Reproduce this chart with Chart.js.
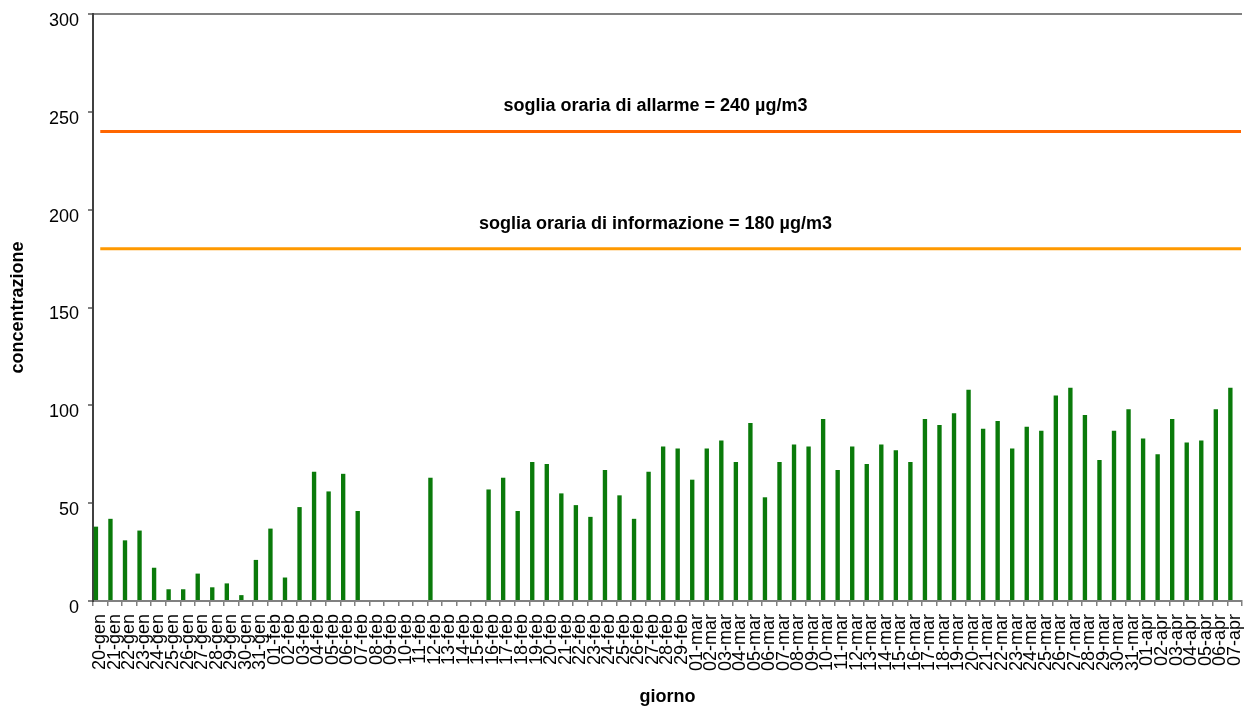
<!DOCTYPE html>
<html>
<head>
<meta charset="utf-8">
<script src="https://cdn.jsdelivr.net/npm/chart.js@4/dist/chart.umd.min.js"></script>
<style>
  html, body { margin: 0; padding: 0; background: #fff; }
  #wrap { width: 1245px; height: 706px; position: relative; }
</style>
</head>
<body>
<div id="wrap"><canvas id="chart"></canvas></div>
<script>
const giorni = [
  '20-gen','21-gen','22-gen','23-gen','24-gen','25-gen','26-gen','27-gen','28-gen','29-gen','30-gen','31-gen',
  '01-feb','02-feb','03-feb','04-feb','05-feb','06-feb','07-feb','08-feb','09-feb','10-feb','11-feb','12-feb',
  '13-feb','14-feb','15-feb','16-feb','17-feb','18-feb','19-feb','20-feb','21-feb','22-feb','23-feb','24-feb',
  '25-feb','26-feb','27-feb','28-feb','29-feb',
  '01-mar','02-mar','03-mar','04-mar','05-mar','06-mar','07-mar','08-mar','09-mar','10-mar','11-mar','12-mar',
  '13-mar','14-mar','15-mar','16-mar','17-mar','18-mar','19-mar','20-mar','21-mar','22-mar','23-mar','24-mar',
  '25-mar','26-mar','27-mar','28-mar','29-mar','30-mar','31-mar',
  '01-apr','02-apr','03-apr','04-apr','05-apr','06-apr','07-apr'
];

const concentrazione = [
  38, 42, 31, 36, 17, 6, 6, 14, 7, 9, 3, 21,
  37, 12, 48, 66, 56, 65, 46, 0, 0, 0, 0, 63,
  0, 0, 0, 57, 63, 46, 71, 70, 55, 49, 43, 67,
  54, 42, 66, 79, 78,
  62, 78, 82, 71, 91, 53, 71, 80, 79, 93, 67, 79,
  70, 80, 77, 71, 93, 90, 96, 108, 88, 92, 78, 89,
  87, 105, 109, 95, 72, 87, 98,
  83, 75, 93, 81, 82, 98, 109
];

const sogliaValori = [240, 180];
const sogliaTesti = ['soglia oraria di allarme = 240 µg/m3', 'soglia oraria di informazione = 180 µg/m3'];
const sogliaColori = ['#ff6600', '#ff9900'];

const FONT = 'Liberation Sans, Arial, sans-serif';

// threshold lines + their captions, placed through the scales
const soglie = {
    id: 'soglie',
    afterDatasetsDraw(chart) {
        const { ctx, chartArea, scales } = chart;
        const x0 = scales.x.getPixelForValue(0);
        const x1 = chartArea.right - 1;
        const xc = (chartArea.left + chartArea.right) / 2 - 12;
        ctx.save();
        sogliaValori.forEach((v, i) => {
            const y = scales.y.getPixelForValue(v);
            ctx.strokeStyle = sogliaColori[i];
            ctx.lineWidth = 3;
            ctx.beginPath();
            ctx.moveTo(x0, y);
            ctx.lineTo(x1, y);
            ctx.stroke();
            ctx.fillStyle = '#000';
            ctx.font = 'bold 18px ' + FONT;
            ctx.textAlign = 'center';
            ctx.textBaseline = 'middle';
            ctx.fillText(sogliaTesti[i], xc, y - 25);
        });
        ctx.restore();
    }
};

new Chart(document.getElementById('chart'), {
    type: 'bar',
    data: {
        labels: giorni,
        datasets: [
            { label: 'concentrazione', data: concentrazione, backgroundColor: '#0a7a0a', borderWidth: 0 },
            { label: '', data: [], backgroundColor: 'transparent' },
            { label: '', data: [], backgroundColor: 'transparent' }
        ]
    },
    options: {
        responsive: true,
        maintainAspectRatio: false,
        animation: false,
        categoryPercentage: 0.9,
        barPercentage: 1.0,
        layout: { padding: { top: 14, right: 3, left: 0, bottom: 0 } },
        plugins: {
            legend: { display: false },
            tooltip: { enabled: false }
        },
        scales: {
            x: {
                afterFit: s => { s.height = 105; s.paddingLeft = 0; s.paddingRight = 0; },
                grid: { drawOnChartArea: false, drawTicks: true, tickLength: 5, color: '#808080', lineWidth: 1.5 },
                border: { color: '#808080', width: 2 },
                ticks: {
                    autoSkip: false, maxRotation: 90, minRotation: 90, padding: 8,
                    color: '#000', font: { family: FONT, size: 18 }
                },
                title: {
                    display: true, text: 'giorno', color: '#000',
                    font: { family: FONT, size: 18, weight: 'bold' },
                    padding: { top: 0, bottom: -2 }
                }
            },
            y: {
                min: 0, max: 300,
                afterFit: s => { s.width = 93; s.paddingTop = 0; s.paddingBottom = 0; },
                ticks: { stepSize: 50, padding: 9, labelOffset: 7, color: '#000', font: { family: FONT, size: 18 } },
                grid: {
                    drawTicks: true, tickLength: 5, tickColor: '#808080', lineWidth: 2,
                    color: c => c.tick && c.tick.value === 300 ? '#808080' : 'transparent'
                },
                border: { color: '#404040', width: 2 },
                title: {
                    display: true, text: 'concentrazione', color: '#000',
                    font: { family: FONT, size: 18, weight: 'bold' },
                    padding: { top: 7, bottom: 0 }
                }
            }
        }
    },
    plugins: [soglie]
});
</script>
</body>
</html>
